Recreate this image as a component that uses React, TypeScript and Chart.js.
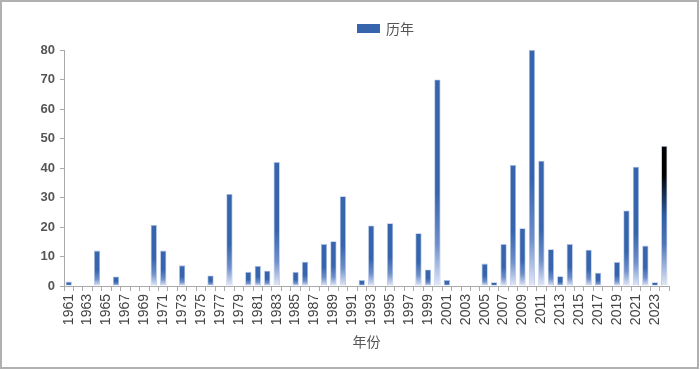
import React, { useEffect, useRef } from "react";
import { Chart, registerables } from "chart.js";

Chart.register(...registerables);

const years: string[] = [
  "1961","1962","1963","1964","1965","1966","1967","1968","1969","1970",
  "1971","1972","1973","1974","1975","1976","1977","1978","1979","1980",
  "1981","1982","1983","1984","1985","1986","1987","1988","1989","1990",
  "1991","1992","1993","1994","1995","1996","1997","1998","1999","2000",
  "2001","2002","2003","2004","2005","2006","2007","2008","2009","2010",
  "2011","2012","2013","2014","2015","2016","2017","2018","2019","2020",
  "2021","2022","2023","2024",
];

const values: number[] = [
  1.5, 0, 0, 12, 0, 3.2, 0, 0, 0, 20.7,
  12, 0, 7, 0, 0, 3.6, 0, 31.2, 0, 4.8,
  6.8, 5.2, 42, 0, 4.8, 8.2, 0, 14.2, 15.2, 30.4,
  0, 2, 20.5, 0, 21.3, 0, 0, 17.9, 5.6, 70,
  2, 0, 0, 0, 7.6, 1.3, 14.2, 41, 19.6, 80,
  42.5, 12.5, 3.3, 14.2, 0, 12.3, 4.5, 0, 8.1, 25.6,
  40.4, 13.7, 1.3, 47.5,
];

const yTicks: number[] = [0, 10, 20, 30, 40, 50, 60, 70, 80];

const BLUE = "#3665ad";
const LIGHT = "#e4e8f7";
const LAST_INDEX = years.length - 1;
const CJK = '"Noto Sans CJK SC", "Noto Sans", sans-serif';
const NUM = '"Liberation Sans", "DejaVu Sans", sans-serif';

const legendPlugin = {
  id: "topLegend",
  afterDraw(chart: any) {
    const ctx = chart.ctx;
    const ds = chart.data.datasets[0];
    ctx.save();
    ctx.fillStyle = BLUE;
    ctx.fillRect(357, 24, 23, 9);
    ctx.fillStyle = "#555555";
    ctx.font = `14px ${CJK}`;
    ctx.textBaseline = "middle";
    ctx.textAlign = "left";
    ctx.fillText(ds.label, 386, 28.5);
    ctx.restore();
  },
};

export default function App() {
  const ref = useRef<HTMLCanvasElement | null>(null);

  useEffect(() => {
    if (!ref.current) return;
    const chart = new Chart(ref.current, {
      type: "bar",
      data: {
        labels: years,
        datasets: [
          {
            label: "历年",
            data: values,
            backgroundColor: (ctx: any) => {
              const c = ctx.chart;
              if (!c.chartArea || ctx.dataIndex === undefined || ctx.type !== "data") return BLUE;
              const ys = c.scales.y;
              const v = values[ctx.dataIndex];
              const top = ys.getPixelForValue(v);
              const base = ys.getPixelForValue(0);
              if (base - top < 2) return BLUE;
              const g = c.ctx.createLinearGradient(0, top, 0, base);
              if (ctx.dataIndex === LAST_INDEX) {
                g.addColorStop(0, "#000000");
                g.addColorStop(0.2, "#000000");
                g.addColorStop(0.5, "#2f5ea6");
                g.addColorStop(0.7, "#4d74b8");
                g.addColorStop(1, LIGHT);
              } else {
                g.addColorStop(0, BLUE);
                g.addColorStop(0.55, BLUE);
                g.addColorStop(0.8, "#6e8fca");
                g.addColorStop(1, LIGHT);
              }
              return g;
            },
            borderColor: "rgba(160,182,225,0.9)",
            borderWidth: 0.8,
            categoryPercentage: 1,
            barPercentage: 0.66,
          },
        ],
      },
      options: {
        animation: false,
        responsive: false,
        maintainAspectRatio: false,
        layout: { padding: { left: 0, right: 31, top: 50, bottom: 20 } },
        plugins: {
          tooltip: { enabled: false },
          legend: { display: false },
        },
        scales: {
          x: {
            grid: {
              display: true,
              drawOnChartArea: false,
              drawTicks: true,
              tickLength: 5,
              color: "#aaaaaa",
              offset: true,
            },
            border: { display: true, color: "#aaaaaa" },
            ticks: {
              autoSkip: false,
              maxRotation: 90,
              minRotation: 90,
              color: "#444444",
              font: { family: NUM, size: 14 },
              padding: 3,
              callback: (_v: any, i: number) => (i % 2 === 0 ? years[i] : ""),
            },
            title: {
              display: true,
              text: "年份",
              color: "#555555",
              font: { family: CJK, size: 14 },
              padding: { top: 2, bottom: 0 },
            },
            afterFit: (s: any) => {
              s.height = 64;
            },
          },
          y: {
            min: 0,
            max: 80,
            afterBuildTicks: (s: any) => {
              s.ticks = yTicks.map((v) => ({ value: v }));
            },
            grid: {
              display: true,
              drawOnChartArea: false,
              drawTicks: true,
              tickLength: 4,
              color: "#aaaaaa",
            },
            border: { display: true, color: "#aaaaaa" },
            ticks: {
              color: "#555555",
              font: { family: NUM, size: 13, weight: "bold" },
              padding: 5,
            },
            afterFit: (s: any) => {
              s.width = 64;
            },
          },
        },
      },
      plugins: [legendPlugin],
    } as any);
    return () => chart.destroy();
  }, []);

  return (
    <div style={{ position: "absolute", left: 0, top: 0, width: 700, height: 370, background: "#fff" }}>
      <canvas ref={ref} width={700} height={370} style={{ position: "absolute", left: 0, top: 0, width: 700, height: 370 }} />
      <div
        style={{
          position: "absolute",
          left: 0,
          top: 0,
          width: 699,
          height: 369,
          boxSizing: "border-box",
          border: "2px solid #b0b0b0",
          pointerEvents: "none",
        }}
      />
    </div>
  );
}
